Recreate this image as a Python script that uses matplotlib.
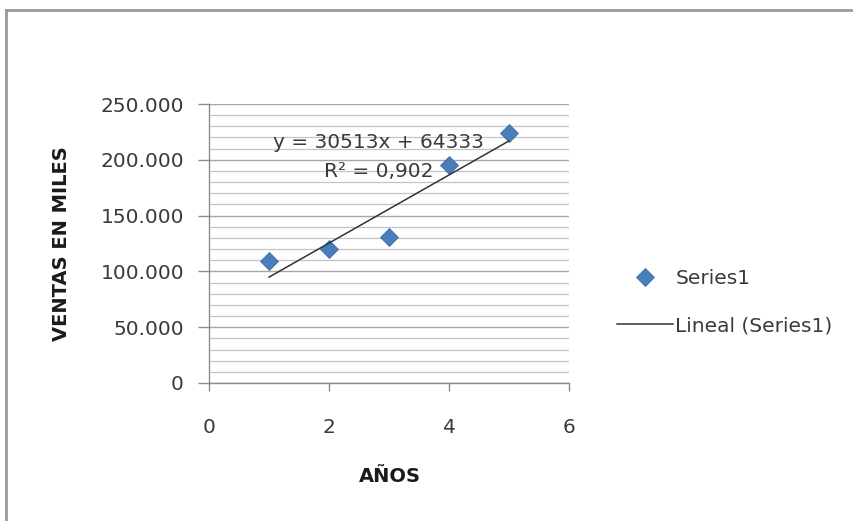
import matplotlib
matplotlib.use('Agg')
import matplotlib.pyplot as plt
from matplotlib.lines import Line2D
from matplotlib.ticker import FuncFormatter, MultipleLocator
import numpy as np

# data
years = [1, 2, 3, 4, 5]
sales = [109100, 120100, 130700, 195600, 223900]
series_name = 'Series1'
trend_name = 'Lineal (Series1)'
equation = 'y = 30513x + 64333'
r_squared = 'R² = 0,902'
x_ticks = [0, 2, 4, 6]
y_ticks = [0, 50000, 100000, 150000, 200000, 250000]

W, H = 854, 521
plt.rcParams['font.family'] = ['DejaVu Sans']

fig = plt.figure(figsize=(W / 100, H / 100), dpi=100)
fig.patch.set_facecolor('white')

# outer chart frame (only top and left visible)
fig.add_artist(Line2D([6 / W, 1], [1 - 10 / H, 1 - 10 / H], color='#999999', lw=2,
                      transform=fig.transFigure))
fig.add_artist(Line2D([6 / W, 6 / W], [0, 1 - 10 / H], color='#999999', lw=2,
                      transform=fig.transFigure))

ax = fig.add_axes([209 / W, 1 - 383 / H, 360 / W, 279 / H])

ax.set_xlim(0, 6)
ax.set_ylim(0, 250000)
ax.set_xticks(x_ticks)
ax.set_yticks(y_ticks)
ax.yaxis.set_minor_locator(MultipleLocator(10000))
ax.yaxis.set_major_formatter(FuncFormatter(lambda v, p: f'{v:,.0f}'.replace(',', '.')))

ax.grid(True, axis='y', which='major', color='#a6a6a6', lw=1.0)
ax.grid(True, axis='y', which='minor', color='#c4c4c4', lw=0.9)
ax.set_axisbelow(True)

for side in ['top', 'right']:
    ax.spines[side].set_visible(False)
for side in ['left', 'bottom']:
    ax.spines[side].set_color('#8c8c8c')
    ax.spines[side].set_linewidth(1.0)

ax.tick_params(axis='y', which='major', length=8, width=1, color='#8c8c8c',
               pad=10, labelsize=14.5, labelcolor='#3a3a3a')
ax.tick_params(axis='y', which='minor', length=0)
ax.tick_params(axis='x', which='major', length=6, width=1, color='#8c8c8c',
               pad=19, labelsize=14.5, labelcolor='#3a3a3a')

ax.plot(years, sales, linestyle='none', marker='D', markersize=9.5,
        color='#4a7ebb', markeredgecolor='#3f6fa8', markeredgewidth=0.6,
        label=series_name, zorder=3)

slope, intercept = np.polyfit(years, sales, 1)
xs = np.array([years[0], years[-1]])
ax.plot(xs, slope * xs + intercept, color='#333333', lw=1.1, label=trend_name, zorder=4)

ax.text(2.82, 215800, equation, ha='center', va='center', fontsize=14.5, color='#3a3a3a')
ax.text(2.83, 189700, r_squared, ha='center', va='center', fontsize=14.5, color='#3a3a3a')

fig.text(62 / W, 1 - 244 / H, 'VENTAS EN MILES', rotation=90, ha='center', va='center',
         fontsize=14, fontweight='bold', color='#1a1a1a')
fig.text(390 / W, 1 - 477 / H, 'AÑOS', ha='center', va='center',
         fontsize=14, fontweight='bold', color='#1a1a1a')

ax.legend(loc='center left', bbox_to_anchor=(617 / W, 1 - 302 / H),
          bbox_transform=fig.transFigure, frameon=False, fontsize=14.5,
          handlelength=2.8, handletextpad=0.1, labelspacing=1.4,
          borderpad=0, borderaxespad=0, labelcolor='#3a3a3a')

fig.savefig('out.png', dpi=100)
